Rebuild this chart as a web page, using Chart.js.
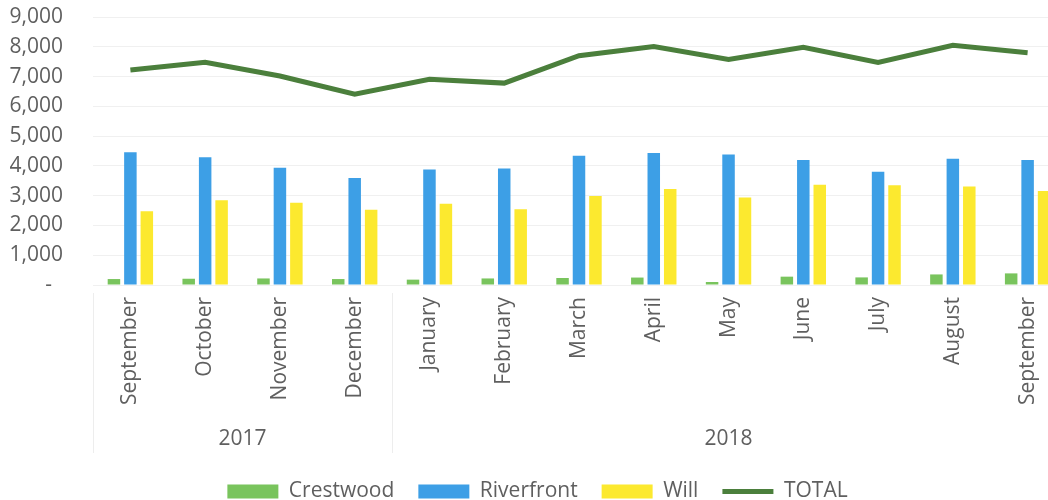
<!DOCTYPE html>
<html>
<head>
<meta charset="utf-8">
<title>Monthly totals by branch</title>
<script src="https://cdn.jsdelivr.net/npm/chart.js@4.4.1/dist/chart.umd.min.js"></script>
<style>
  html, body { margin: 0; padding: 0; background: #fff; overflow: hidden; }
  #wrap { width: 1090px; height: 500px; overflow: hidden; }
</style>
</head>
<body>
<div id="wrap"><canvas id="myChart" width="1090" height="512"></canvas></div>
<script>
const months = ['September', 'October', 'November', 'December', 'January', 'February', 'March',
                'April', 'May', 'June', 'July', 'August', 'September'];
const monthYear = ['2017', '2017', '2017', '2017', '2018', '2018', '2018',
                   '2018', '2018', '2018', '2018', '2018', '2018'];

const crestwood  = [200, 210, 220, 200, 180, 220, 235, 250, 100, 280, 255, 355, 390];
const riverfront = [4460, 4290, 3940, 3590, 3880, 3910, 4340, 4430, 4380, 4200, 3800, 4240, 4200];
const will       = [2475, 2850, 2765, 2530, 2730, 2540, 2990, 3220, 2940, 3370, 3350, 3310, 3160];
const total      = [7220, 7480, 7020, 6410, 6910, 6780, 7700, 8010, 7570, 7980, 7470, 8050, 7800];

const yTicks = [0, 1000, 2000, 3000, 4000, 5000, 6000, 7000, 8000, 9000];

const textColor = '#5f5f5f';
const totalColor = '#4b7f3c';
Chart.defaults.font.family = "'Open Sans', sans-serif";
Chart.defaults.font.size = 21;
Chart.defaults.color = textColor;

// second row of the x axis: year names centred under their months, thin dividers between years
const yearRow = {
    id: 'yearRow',
    afterDraw(chart) {
        const x = chart.scales.x;
        const ctx = chart.ctx;
        const half = (x.getPixelForValue(1) - x.getPixelForValue(0)) / 2;
        const top = chart.chartArea.bottom + 8;
        const bottom = x.bottom - 4;
        ctx.save();
        ctx.strokeStyle = '#ededed';
        ctx.lineWidth = 1;
        ctx.fillStyle = textColor;
        ctx.font = "21px 'Open Sans', sans-serif";
        ctx.textAlign = 'center';
        ctx.textBaseline = 'middle';
        let start = 0;
        for (let i = 1; i <= monthYear.length; i++) {
            if (i === monthYear.length || monthYear[i] !== monthYear[start]) {
                const left = x.getPixelForValue(start) - half;
                const right = x.getPixelForValue(i - 1) + half;
                ctx.fillText(monthYear[start], (left + right) / 2, chart.chartArea.bottom + 154);
                ctx.beginPath();
                ctx.moveTo(Math.round(left) + 0.5, top);
                ctx.lineTo(Math.round(left) + 0.5, bottom);
                ctx.stroke();
                start = i;
            }
        }
        ctx.restore();
    }
};

function noPadding(s) {
    s.paddingTop = 0;
    s.paddingBottom = 0;
    s.paddingLeft = 0;
    s.paddingRight = 0;
}

const data = {
    labels: months,
    datasets: [{
        label: 'Crestwood',
        data: crestwood,
        backgroundColor: '#79c45d',
    }, {
        label: 'Riverfront',
        data: riverfront,
        backgroundColor: '#3d9fe6',
    }, {
        label: 'Will',
        data: will,
        backgroundColor: '#fce92f',
    }, {
        type: 'line',
        label: 'TOTAL',
        data: total,
        borderColor: totalColor,
        backgroundColor: totalColor,
        borderWidth: 5,
        pointRadius: 0,
        tension: 0,
    }]
};

const config = {
    type: 'bar',
    data: data,
    options: {
        responsive: false,
        animation: false,
        datasets: {
            bar: { categoryPercentage: 0.66, barPercentage: 0.76 }
        },
        layout: { padding: { left: 10, right: 25, top: 17, bottom: 0 } },
        scales: {
            x: {
                grid: { display: false, drawTicks: false },
                border: { display: false },
                ticks: { minRotation: 90, maxRotation: 90, padding: 12, color: textColor },
                afterFit(s) { s.height = 172; noPadding(s); }
            },
            y: {
                min: 0,
                max: 9000,
                afterBuildTicks(s) { s.ticks = yTicks.map(v => ({ value: v })); },
                grid: { color: '#f0f0f0', drawTicks: false },
                border: { display: false },
                ticks: {
                    padding: 30,
                    autoSkip: false,
                    color: textColor,
                    callback: v => v === 0 ? '-  ' : v.toLocaleString('en-US')
                },
                afterFit(s) { s.width = 83; noPadding(s); }
            }
        },
        plugins: {
            tooltip: { enabled: false },
            legend: {
                position: 'bottom',
                labels: {
                    usePointStyle: true,
                    pointStyleWidth: 51,
                    boxHeight: 14,
                    padding: 24,
                    color: textColor,
                    generateLabels(chart) {
                        const items = Chart.defaults.plugins.legend.labels.generateLabels(chart);
                        return items.map(item => {
                            if (item.text === 'TOTAL') {
                                item.pointStyle = 'line';
                                item.lineWidth = 5;
                                item.strokeStyle = totalColor;
                            } else {
                                item.pointStyle = 'rect';
                                item.lineWidth = 0;
                            }
                            return item;
                        });
                    }
                }
            }
        }
    },
    plugins: [yearRow]
};

const myChart = new Chart(document.getElementById('myChart'), config);
</script>
</body>
</html>
